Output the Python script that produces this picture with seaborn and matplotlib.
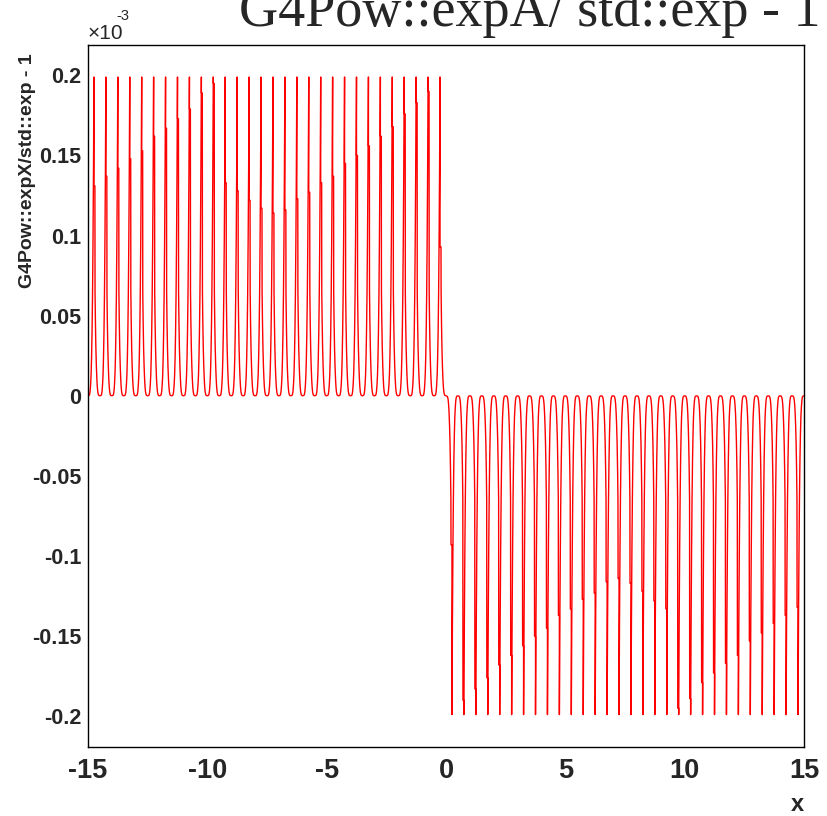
import numpy as np
import pandas as pd
import matplotlib
matplotlib.use("Agg")
import matplotlib.pyplot as plt
import seaborn as sns
from matplotlib.ticker import FixedLocator, MultipleLocator

# |G4Pow::expA/std::exp - 1| (units of 1e-3) across one half-unit table cell,
# read off the picture at offsets u from the cell's node (x units).
# u = -0.25 is the tip side of a spike, u = +0.25 the doubled "shoulder" side.
cell_u = [-0.25, -0.23, -0.21, -0.19, -0.17, -0.15, -0.13, -0.11, -0.09, -0.07, -0.05,
          0.0, 0.05, 0.07, 0.09, 0.11, 0.13, 0.15, 0.17, 0.19, 0.205, 0.21, 0.25]
cell_mag = [0.199, 0.140, 0.096, 0.063, 0.040, 0.024, 0.013, 0.007, 0.003, 0.001, 0.0003,
            0.0, 0.0003, 0.001, 0.0025, 0.0056, 0.011, 0.019, 0.030, 0.047, 0.065,
            0.133, 0.133]

# table nodes (spikes sit half way between them)
node_x = [-15.0, -14.5, -14.0, -13.5, -13.0, -12.5, -12.0, -11.5, -11.0, -10.5,
          -10.0, -9.5, -9.0, -8.5, -8.0, -7.5, -7.0, -6.5, -6.0, -5.5,
          -5.0, -4.5, -4.0, -3.5, -3.0, -2.5, -2.0, -1.5, -1.0, -0.5,
          0.0, 0.5, 1.0, 1.5, 2.0, 2.5, 3.0, 3.5, 4.0, 4.5,
          5.0, 5.5, 6.0, 6.5, 7.0, 7.5, 8.0, 8.5, 9.0, 9.5,
          10.0, 10.5, 11.0, 11.5, 12.0, 12.5, 13.0, 13.5, 14.0, 14.5, 15.0]

# height where the doubled part of each spike ends (|value|, 1e-3), spikes at
# x = -14.75 ... -0.25 and x = 0.25 ... 14.75
shoulder_neg = [0.131, 0.137, 0.142, 0.148, 0.153, 0.162, 0.167, 0.173, 0.179, 0.189,
                0.195, 0.133, 0.128, 0.122, 0.117, 0.114, 0.116, 0.123, 0.127, 0.133,
                0.137, 0.145, 0.150, 0.156, 0.162, 0.168, 0.176, 0.183, 0.190, 0.093]
shoulder_pos = [0.093, 0.190, 0.183, 0.176, 0.168, 0.162, 0.156, 0.150, 0.145, 0.137,
                0.133, 0.127, 0.123, 0.116, 0.114, 0.117, 0.122, 0.128, 0.133, 0.195,
                0.189, 0.179, 0.173, 0.167, 0.162, 0.153, 0.148, 0.142, 0.137, 0.132]

x_ticks = [-15, -10, -5, 0, 5, 10, 15]
y_ticks = [-0.2, -0.15, -0.1, -0.05, 0, 0.05, 0.1, 0.15, 0.2]
y_ticklabels = ["-0.2", "-0.15", "-0.1", "-0.05", "0", "0.05", "0.1", "0.15", "0.2"]


def cell(shoulder):
    mag = np.array(cell_mag)
    if shoulder is not None:
        mag[-2:] = shoulder
    return mag


# assemble the curve cell by cell
u = np.array(cell_u)
xs, ys = [], []
for k, c in enumerate(node_x):
    if c < 0:
        s = shoulder_neg[k - 1] if k >= 1 else None
        px = c - u[::-1]
        py = cell(s)[::-1]
    elif c > 0:
        s = shoulder_pos[k - 30] if k < len(node_x) - 1 else None
        px = c + u
        py = -cell(s)
    else:
        half = u >= 0
        left = cell(shoulder_neg[29])[half]
        right = cell(shoulder_pos[0])[half]
        px = np.concatenate([-u[half][::-1], u[half][1:]])
        py = np.concatenate([left[::-1], -right[1:]])
    keep = (px >= -15.0) & (px <= 15.0)
    xs.extend(px[keep])
    ys.extend(py[keep])
df = pd.DataFrame({"x": xs, "ratio": ys})

sns.set_style("white")
plt.rcParams["axes.unicode_minus"] = False
lab_font = ["Liberation Sans", "DejaVu Sans"]

fig = plt.figure(figsize=(8.27, 8.16), dpi=100)
ax = fig.add_axes([0.1064, 0.0850, 0.8658, 0.8599])
sns.lineplot(data=df, x="x", y="ratio", sort=False, estimator=None,
             color="#ff0000", linewidth=1.0, ax=ax)

ax.set_xlim(-15, 15)
ax.set_ylim(-0.219, 0.219)
ax.xaxis.set_major_locator(FixedLocator(x_ticks))
ax.xaxis.set_minor_locator(MultipleLocator(1))
ax.yaxis.set_major_locator(FixedLocator(y_ticks))
ax.yaxis.set_minor_locator(MultipleLocator(0.01))
ax.set_yticklabels(y_ticklabels)
ax.set_xticklabels([str(t) for t in x_ticks])
for lab in ax.get_xticklabels() + ax.get_yticklabels():
    lab.set_family(lab_font)
    lab.set_fontweight("bold")
ax.tick_params(axis="x", which="major", direction="in", length=14, width=0.8,
               labelsize=19.5, pad=8, top=False)
ax.tick_params(axis="x", which="minor", direction="in", length=7, width=0.8, top=False)
ax.tick_params(axis="y", which="major", direction="in", length=16, width=0.8,
               labelsize=15.5, pad=5, right=False)
ax.tick_params(axis="y", which="minor", direction="in", length=8, width=0.8, right=False)
for s in ax.spines.values():
    s.set_linewidth(1.0)
    s.set_color("black")

ax.set_xlabel("")
ax.set_ylabel("")
fig.text(0.9722, 0.006, "x", ha="right", va="baseline", fontsize=17,
         fontweight="bold", family=lab_font)
fig.text(0.033, 0.934, "G4Pow::expX/std::exp - 1", rotation=90, ha="center", va="top",
         fontsize=14, fontweight="bold", family=lab_font)
fig.text(0.106, 0.952, "\u00d710", ha="left", va="baseline", fontsize=15, family=lab_font)
fig.text(0.141, 0.976, "-3", ha="left", va="baseline", fontsize=10.5, family=lab_font)
fig.text(0.992, 0.968, "G4Pow::expA/ std::exp - 1", ha="right", va="baseline",
         fontsize=39, family=["Liberation Serif", "DejaVu Serif"])

fig.savefig("out.png", dpi=100)
